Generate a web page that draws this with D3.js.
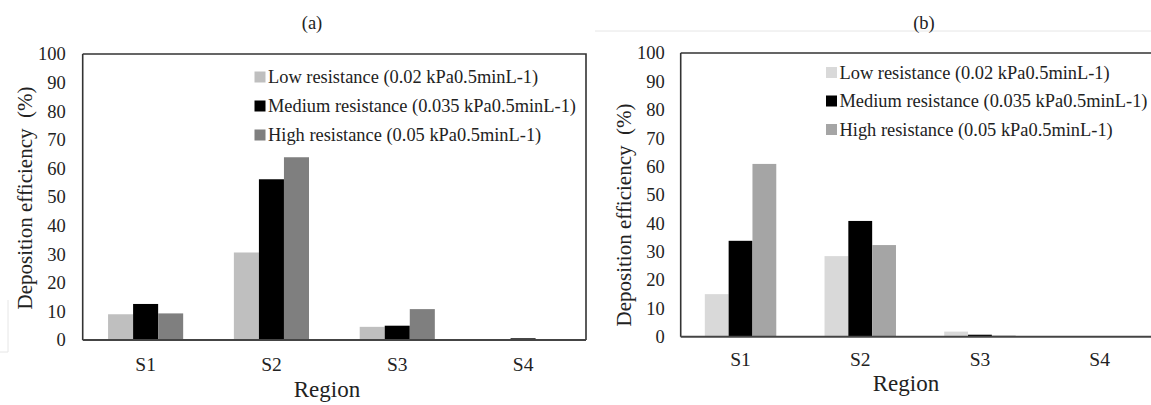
<!DOCTYPE html>
<html>
<head>
<meta charset="utf-8">
<script src="https://cdn.jsdelivr.net/npm/d3@7"></script>
<style>
  body { margin: 0; background: #fff; }
  svg { display: block; }
  svg text { font-family: "Liberation Serif", "DejaVu Serif", "Times New Roman", serif; }
</style>
</head>
<body>
<svg id="canvas" width="1151" height="405"></svg>
<script>
// data
let regions = ['S1', 'S2', 'S3', 'S4']
let seriesNames = [
  'Low resistance (0.02 kPa0.5minL-1)',
  'Medium resistance (0.035 kPa0.5minL-1)',
  'High resistance (0.05 kPa0.5minL-1)'
]
// panel (a)
let lowA = [9.0, 30.6, 4.6, 0.2]
let medA = [12.6, 56.2, 5.0, 0.6]
let highA = [9.3, 63.9, 10.8, 0.3]
// panel (b)
let lowB = [15.0, 28.4, 1.8, 0]
let medB = [33.8, 40.8, 0.7, 0]
let highB = [60.9, 32.3, 0.4, 0]

let yTicks = [0, 10, 20, 30, 40, 50, 60, 70, 80, 90, 100]

let serif = '"Liberation Serif", "DejaVu Serif", "Times New Roman", serif'
let canvas = d3.select('#canvas')

// faint leftovers of the source figure's frames
canvas.append('path')
  .attr('d', 'M0,352H8V300 M595,31H1151')
  .attr('fill', 'none')
  .attr('stroke', '#e6e6e6')
  .attr('stroke-width', 1)

createPanel = (opt) => {
  let g = canvas.append('g')
  let x = d3.scaleBand().domain(regions).range([opt.left, opt.right])
    .paddingInner(0.403).paddingOuter(0.2015)
  let x1 = d3.scaleBand().domain(seriesNames).range([0, x.bandwidth()])
  let y = d3.scaleLinear().domain([0, 100]).range([opt.bottom, opt.top])

  let rows = []
  regions.forEach((r, i) => {
    opt.values.forEach((vals, s) => {
      rows.push({ region: r, series: seriesNames[s], value: vals[i], color: opt.colors[s] })
    })
  })

  g.selectAll('rect.bar')
    .data(rows)
    .enter()
    .append('rect')
    .attr('class', 'bar')
    .attr('x', d => x(d.region) + x1(d.series))
    .attr('width', x1.bandwidth())
    .attr('y', d => y(d.value))
    .attr('height', d => y(0) - y(d.value))
    .attr('fill', d => d.color)

  // frame
  let frame = 'M' + opt.left + ',' + opt.top + 'H' + opt.frameRight
  if (opt.closed) frame += 'V' + opt.bottom
  frame += ' M' + opt.left + ',' + opt.top + 'V' + opt.bottom
  g.append('path')
    .attr('d', frame)
    .attr('fill', 'none')
    .attr('stroke', '#333')
    .attr('stroke-width', 1.6)
  g.append('line')
    .attr('x1', opt.left).attr('x2', opt.frameRight)
    .attr('y1', y(0)).attr('y2', y(0))
    .attr('stroke', '#444')
    .attr('stroke-width', 2)

  // y axis labels
  let yAxis = g.append('g')
    .attr('transform', 'translate(' + opt.left + ',0)')
    .call(d3.axisLeft(y).tickValues(yTicks).tickSize(0).tickPadding(opt.tickPad))
  yAxis.attr('font-family', serif)
  yAxis.select('.domain').remove()
  yAxis.selectAll('text')
    .attr('font-size', 18.5)
    .attr('fill', '#222')

  // x axis labels
  let xAxis = g.append('g')
    .attr('transform', 'translate(0,' + opt.bottom + ')')
    .call(d3.axisBottom(x).tickSize(0).tickPadding(opt.xPad))
  xAxis.attr('font-family', serif)
  xAxis.select('.domain').remove()
  xAxis.selectAll('text')
    .attr('font-size', 19.5)
    .attr('fill', '#222')

  // titles
  g.append('text')
    .attr('x', opt.titleX).attr('y', 29)
    .attr('text-anchor', 'middle')
    .attr('font-size', 18.5)
    .attr('fill', '#222')
    .text(opt.title)
  g.append('text')
    .attr('transform', 'translate(' + opt.yTitleX + ',' + opt.yTitleY + ') rotate(-90)')
    .attr('text-anchor', 'middle')
    .attr('dy', '0.35em')
    .attr('font-size', 21)
    .attr('fill', '#222')
    .text('Deposition efficiency\u00a0 (%)')
  g.append('text')
    .attr('x', opt.xTitleX).attr('y', opt.xTitleY)
    .attr('text-anchor', 'middle')
    .attr('font-size', 23)
    .attr('fill', '#222')
    .text('Region')

  // legend
  let leg = g.selectAll('g.leg')
    .data(seriesNames)
    .enter()
    .append('g')
    .attr('class', 'leg')
    .attr('transform', (d, i) => 'translate(' + opt.legX + ',' + (opt.legY + i * opt.legStep) + ')')
  leg.append('rect')
    .attr('x', 0).attr('y', -5.5)
    .attr('width', 11).attr('height', 11)
    .attr('fill', (d, i) => opt.colors[i])
  leg.append('text')
    .attr('x', 13.5)
    .attr('dy', '0.35em')
    .attr('font-size', 18.4)
    .attr('fill', '#222')
    .text(d => d)
}

createPanel({
  title: '(a)', titleX: 312,
  left: 82.7, right: 586, frameRight: 586, closed: true,
  top: 54, bottom: 340,
  values: [lowA, medA, highA],
  colors: ['#bfbfbf', '#000000', '#7f7f7f'],
  tickPad: 17, xPad: 17,
  yTitleX: 25, yTitleY: 198,
  xTitleX: 327, xTitleY: 397,
  legX: 254.5, legY: 77, legStep: 29
})

createPanel({
  title: '(b)', titleX: 924,
  left: 680.7, right: 1159.5, frameRight: 1151, closed: false,
  top: 53, bottom: 336.7,
  values: [lowB, medB, highB],
  colors: ['#d9d9d9', '#000000', '#a5a5a5'],
  tickPad: 16, xPad: 15,
  yTitleX: 624, yTitleY: 215,
  xTitleX: 906, xTitleY: 391,
  legX: 826, legY: 72.5, legStep: 28.5
})
</script>
</body>
</html>
